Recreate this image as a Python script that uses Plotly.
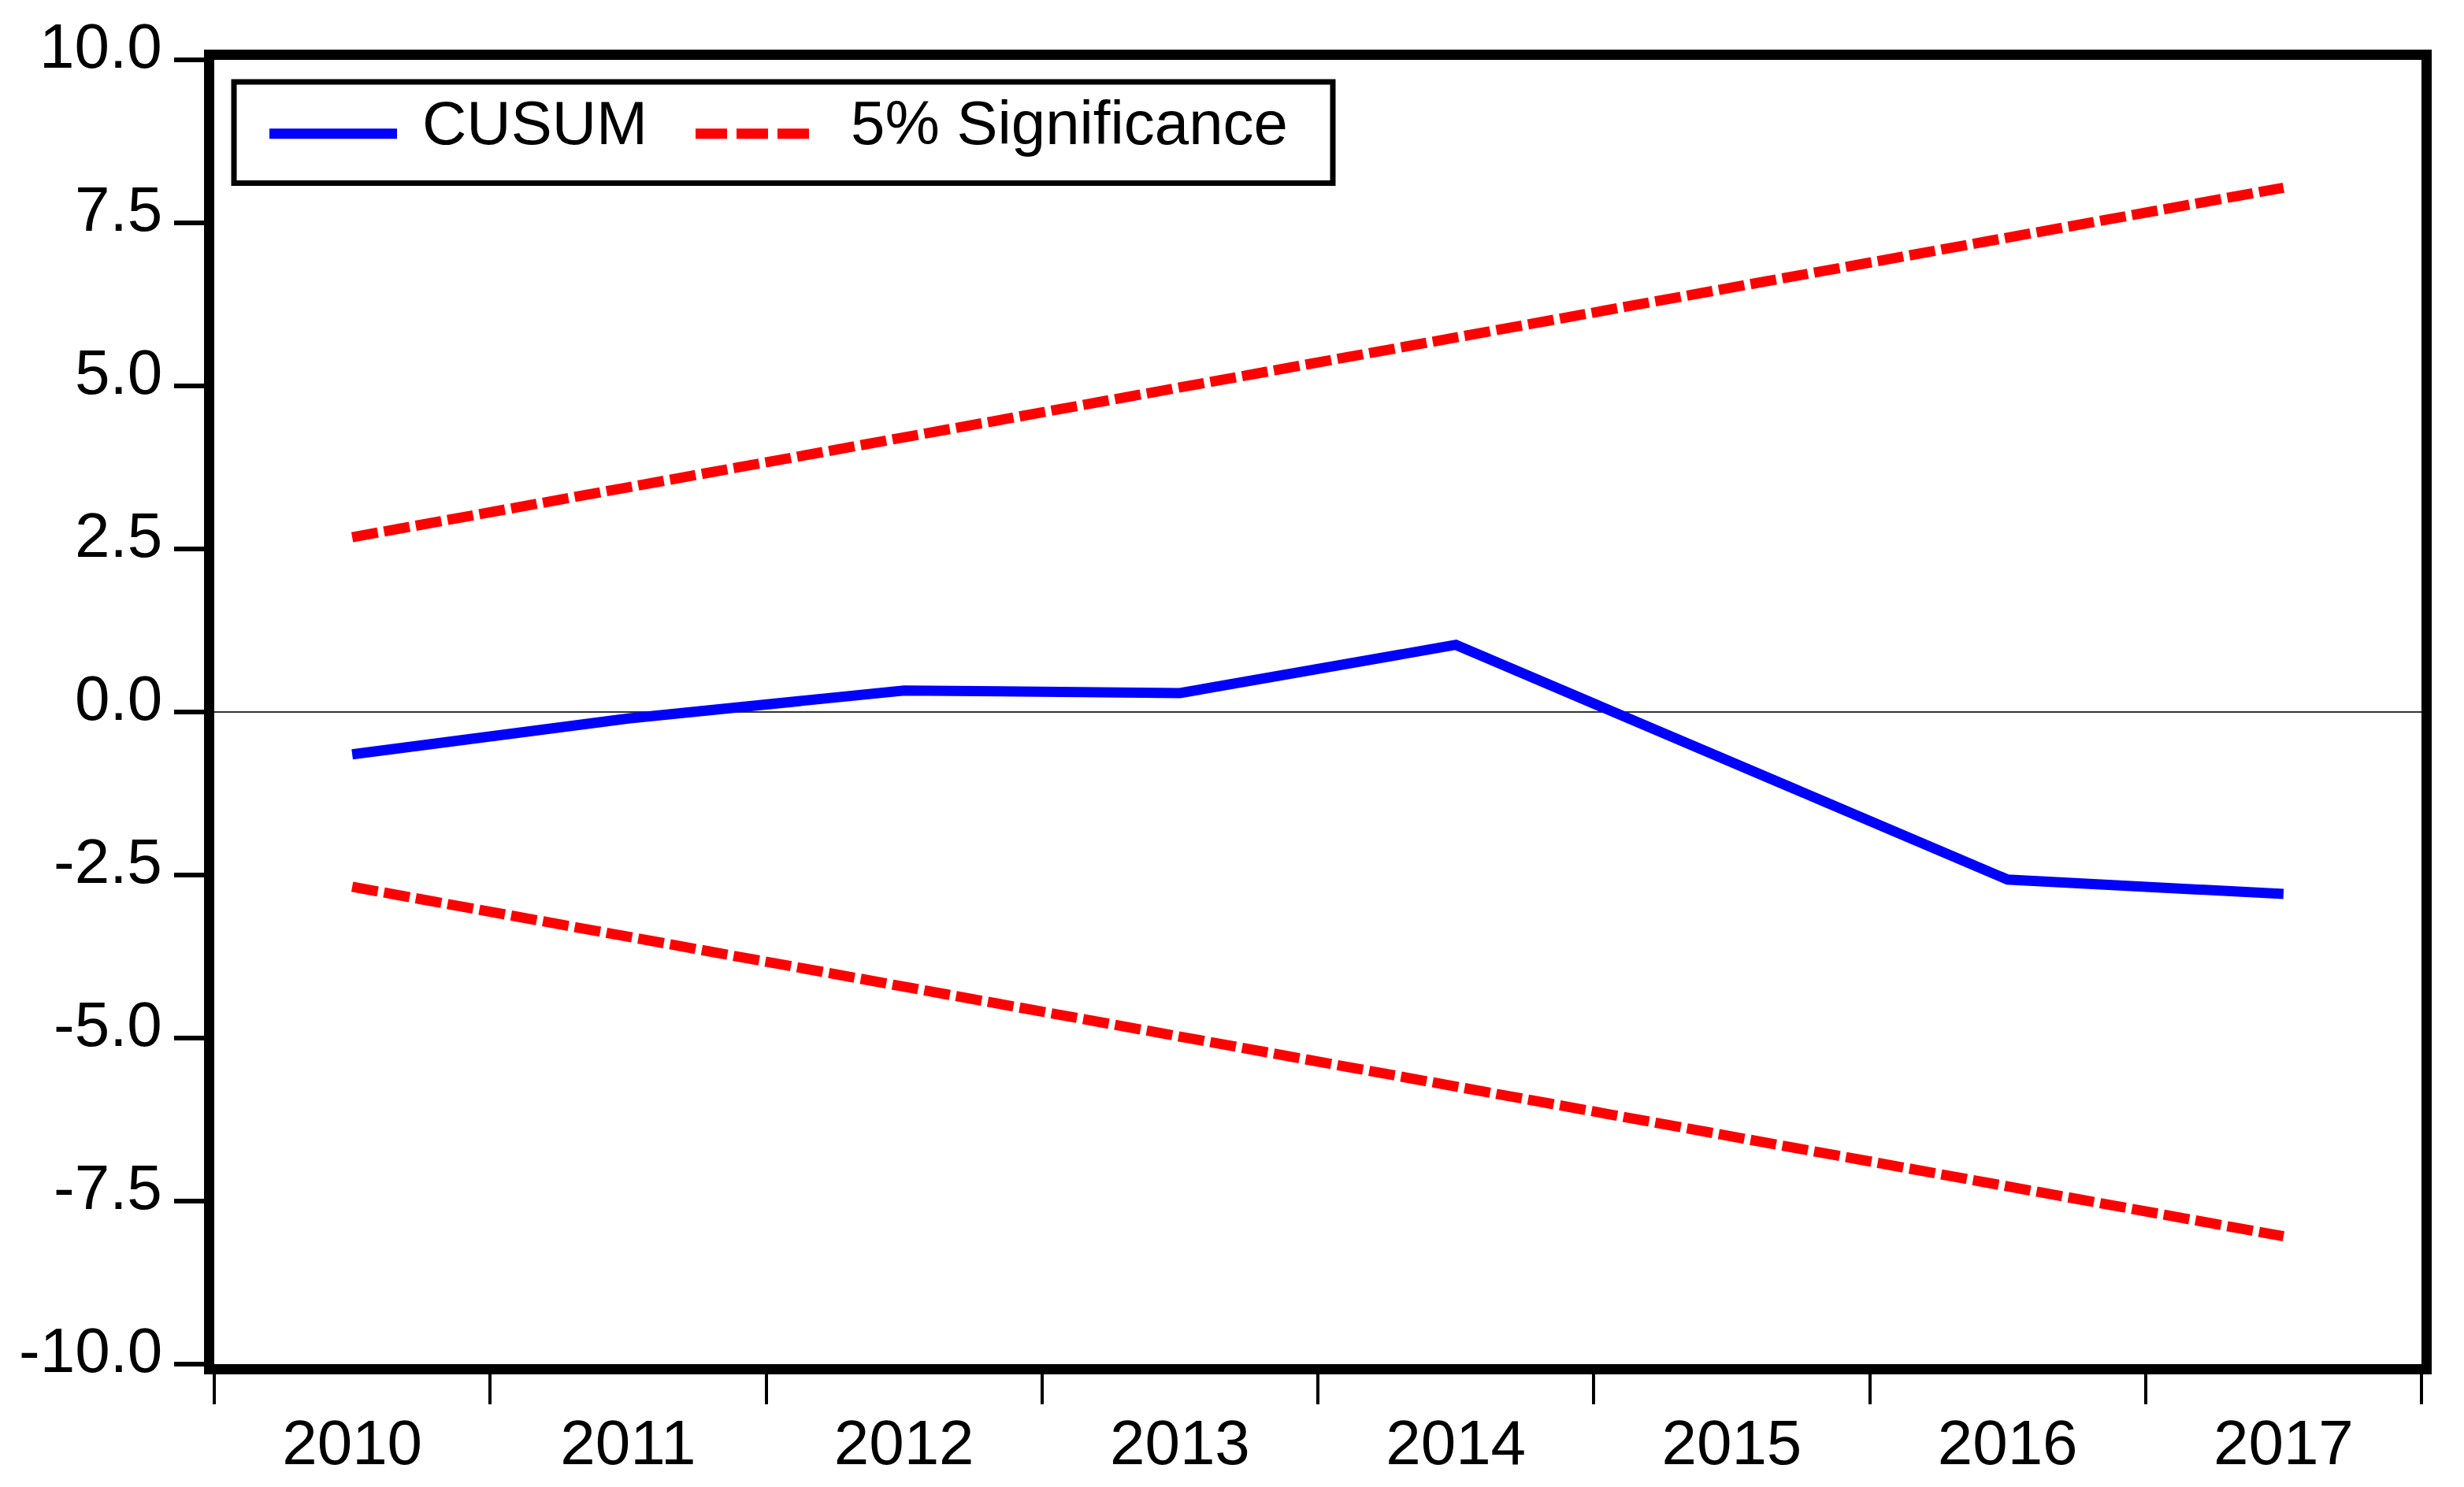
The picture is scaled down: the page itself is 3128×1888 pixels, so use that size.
import plotly.graph_objects as go

# ---- data ----
years = [2010, 2011, 2012, 2013, 2014, 2015, 2016, 2017]
year_labels = ["2010", "2011", "2012", "2013", "2014", "2015", "2016", "2017"]
cusum = [-0.65, -0.10, 0.33, 0.29, 1.03, -0.78, -2.57, -2.79]
upper_5 = [2.68, 3.45, 4.21, 4.98, 5.74, 6.51, 7.27, 8.04]
lower_5 = [-2.68, -3.45, -4.21, -4.98, -5.74, -6.51, -7.27, -8.04]
y_tick_vals = [10.0, 7.5, 5.0, 2.5, 0.0, -2.5, -5.0, -7.5, -10.0]
y_tick_labels = ["10.0", "7.5", "5.0", "2.5", "0.0", "-2.5", "-5.0", "-7.5", "-10.0"]
x_bin_edges = [2009.5, 2010.5, 2011.5, 2012.5, 2013.5, 2014.5, 2015.5, 2016.5, 2017.5]
series_names = ["CUSUM", "5% Significance"]

# page offset (default body margin of the html page)
OFF = 8
W, H = 3128 - OFF, 1888 - OFF
ML, MR, MT, MB = 272 - OFF, 54, 76 - OFF, 152
PW, PH = W - ML - MR, H - MT - MB
FONT = "Liberation Sans, Arial, sans-serif"
FS = 78
BLUE = "#0000FF"
RED = "#FF0000"
DASH = "33px,8px"
LEG_DASH = "40px,12px"


def px_x(p):
    # page pixel -> paper fraction
    return (p - OFF - ML) / PW


def px_y(p):
    return 1 - (p - OFF - MT) / PH


fig = go.Figure()
fig.add_trace(go.Scatter(x=years, y=cusum, mode="lines", name=series_names[0],
                         line=dict(color=BLUE, width=13), showlegend=False))
fig.add_trace(go.Scatter(x=years, y=upper_5, mode="lines", name=series_names[1],
                         line=dict(color=RED, width=13, dash=DASH), showlegend=False))
fig.add_trace(go.Scatter(x=years, y=lower_5, mode="lines", name=series_names[1],
                         line=dict(color=RED, width=13, dash=DASH), showlegend=False))

# custom legend (box, samples, labels)
shapes = [
    dict(type="rect", xref="paper", yref="paper",
         x0=px_x(297), x1=px_x(1692), y0=px_y(233), y1=px_y(104),
         line=dict(color="black", width=7), fillcolor="white", layer="above"),
    dict(type="line", xref="paper", yref="paper",
         x0=px_x(342), x1=px_x(504), y0=px_y(170), y1=px_y(170),
         line=dict(color=BLUE, width=13), layer="above"),
    dict(type="line", xref="paper", yref="paper",
         x0=px_x(883), x1=px_x(1027), y0=px_y(170), y1=px_y(170),
         line=dict(color=RED, width=13, dash=LEG_DASH), layer="above"),
]
annotations = [
    dict(text=series_names[0], xref="paper", yref="paper", x=px_x(534), y=px_y(156),
         xanchor="left", yanchor="middle", showarrow=False,
         font=dict(family=FONT, size=FS, color="black")),
    dict(text=series_names[1], xref="paper", yref="paper", x=px_x(1078), y=px_y(156),
         xanchor="left", yanchor="middle", showarrow=False,
         font=dict(family=FONT, size=FS, color="black")),
]
# y tick labels (sit slightly above their tick marks, as in the original)
for v, t in zip(y_tick_vals, y_tick_labels):
    annotations.append(dict(text=t, xref="paper", yref="y", x=0, y=v,
                            xanchor="right", yanchor="middle", xshift=-64, yshift=18,
                            showarrow=False,
                            font=dict(family=FONT, size=80, color="black")))

fig.update_layout(
    width=W, height=H,
    margin=dict(l=ML, r=MR, t=MT, b=MB, pad=0),
    paper_bgcolor="white", plot_bgcolor="white",
    font=dict(family=FONT, size=FS, color="black"),
    shapes=shapes, annotations=annotations,
    showlegend=False,
)
fig.update_xaxes(
    range=[x_bin_edges[0], x_bin_edges[-1]],
    tickmode="array", tickvals=years, ticktext=year_labels, ticks="",
    showgrid=False, zeroline=False,
    showline=True, linecolor="black", linewidth=13, mirror=True,
    minor=dict(tickmode="array", tickvals=x_bin_edges, ticks="outside",
               ticklen=38, tickwidth=4, tickcolor="black", showgrid=False),
    ticklabelstandoff=18,
    tickfont=dict(family=FONT, size=80, color="black"),
)
fig.update_yaxes(
    range=[-10, 10],
    tickmode="array", tickvals=y_tick_vals, ticktext=y_tick_labels,
    showticklabels=False,
    ticks="outside", ticklen=38, tickwidth=6, tickcolor="black",
    showgrid=False,
    zeroline=True, zerolinecolor="#333333", zerolinewidth=1.5,
    showline=True, linecolor="black", linewidth=13, mirror=True,
)

fig.write_html("out.html")
